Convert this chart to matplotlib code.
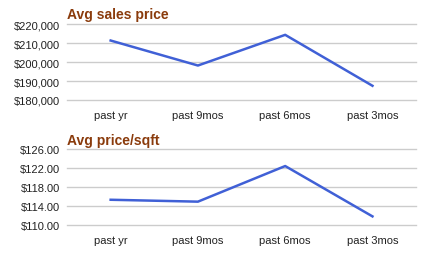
import matplotlib.pyplot as plt
from matplotlib.ticker import FuncFormatter

periods = ["past yr", "past 9mos", "past 6mos", "past 3mos"]
sales_price = [211400, 198200, 214400, 187500]
price_sqft = [115.3, 114.9, 122.4, 111.8]

sales_ticks = [180000, 190000, 200000, 210000, 220000]
sqft_ticks = [110, 114, 118, 122, 126]

plt.rcParams['font.family'] = ['Liberation Sans', 'DejaVu Sans']

TITLE_COLOR = '#8a3b0c'
LINE_COLOR = '#4060d6'
GRID_COLOR = '#cccccc'


def style_axes(ax, ticks, fmt):
    ax.set_xlim(-0.5, len(periods) - 0.5)
    ax.set_ylim(ticks[0], ticks[-1])
    ax.set_yticks(ticks)
    ax.yaxis.set_major_formatter(FuncFormatter(fmt))
    ax.set_xticks(range(len(periods)))
    ax.set_xticklabels(periods)
    for s in ax.spines.values():
        s.set_visible(False)
    ax.grid(axis='y', color=GRID_COLOR, linewidth=1)
    for g in ax.yaxis.get_gridlines():
        g.set_clip_on(False)
    ax.set_axisbelow(True)
    ax.tick_params(axis='both', length=0, labelsize=8, colors='#222222')
    ax.tick_params(axis='x', pad=7)
    ax.tick_params(axis='y', pad=5)


fig = plt.figure(figsize=(4.38, 2.55), dpi=100)

ax1 = fig.add_axes([0.153, 0.604, 0.797, 0.297])
ax1.plot(range(len(periods)), sales_price, color=LINE_COLOR, linewidth=1.8, clip_on=False)
style_axes(ax1, sales_ticks, lambda v, p: "${:,.0f}".format(v))

ax2 = fig.add_axes([0.153, 0.114, 0.797, 0.298])
ax2.plot(range(len(periods)), price_sqft, color=LINE_COLOR, linewidth=1.8, clip_on=False)
style_axes(ax2, sqft_ticks, lambda v, p: "${:.2f}".format(v))

fig.text(0.153, 1 - 19.5 / 255, "Avg sales price", color=TITLE_COLOR,
         fontsize=10, fontweight='bold', va='baseline')
fig.text(0.153, 1 - 144.5 / 255, "Avg price/sqft", color=TITLE_COLOR,
         fontsize=10, fontweight='bold', va='baseline')

fig.savefig("out.png", dpi=100)
